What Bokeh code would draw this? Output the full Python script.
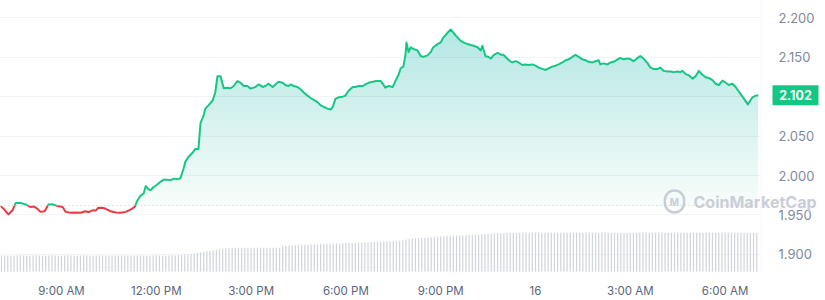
import numpy as np
from bokeh.plotting import figure
from bokeh.layouts import row
from bokeh.models import Range1d, FixedTicker, Span, Label, Grid
from bokeh.core.properties import value
from bokeh.embed import file_html
from bokeh.resources import INLINE

# ---- data (minutes since 00:00 on the 15th) ----
minutes = [424, 430, 439, 447, 453, 462, 472, 481, 487, 494, 500, 508, 515, 523, 532, 542,
           548, 557, 567, 576, 586, 591, 599, 605, 610, 620, 627, 633, 643, 652, 662, 671,
           679, 684, 690, 696, 700, 705, 709, 715, 722, 728, 734, 741, 747, 753, 760, 766,
           772, 775, 781, 789, 794, 800, 804, 810, 813, 819, 827, 832, 836, 842, 848, 855,
           861, 867, 874, 880, 886, 893, 899,
           908, 914, 922, 927, 933, 941, 946, 952, 960, 965, 971, 975, 981, 988, 994, 1000,
           1007, 1013, 1019, 1026, 1032, 1038, 1045, 1051, 1055, 1060, 1066, 1074, 1079, 1085,
           1093, 1098, 1104, 1112, 1117, 1123, 1131, 1136,
           1146, 1151, 1155, 1161, 1169, 1174, 1180, 1184, 1189, 1193, 1195, 1199, 1203, 1208,
           1216, 1222, 1227, 1235, 1241, 1246, 1254, 1260, 1265, 1273, 1279, 1284, 1292, 1298,
           1303, 1311, 1317, 1322, 1330, 1336, 1339, 1345, 1351, 1355, 1360, 1368, 1374, 1379,
           1387, 1393, 1396, 1402, 1408, 1415, 1421, 1427, 1434, 1440, 1446, 1453, 1459, 1465,
           1472, 1478, 1484, 1491, 1497, 1503, 1510, 1516, 1522, 1529, 1535, 1541, 1548, 1554,
           1560, 1563, 1569, 1577, 1582, 1588, 1596, 1601, 1607, 1615, 1620,
           1626, 1634, 1639, 1645, 1653, 1658, 1664, 1672, 1677, 1683, 1691, 1696, 1702, 1710,
           1715, 1719, 1725, 1731, 1738, 1744, 1750, 1757, 1763, 1769, 1776, 1782, 1788, 1795,
           1801, 1807, 1814, 1820, 1826, 1833, 1839, 1843, 1848, 1852, 1858, 1863]

prices = [1.9615, 1.9580, 1.9506, 1.9559, 1.9650, 1.9653, 1.9633, 1.9601, 1.9608, 1.9580,
          1.9539, 1.9547, 1.9631, 1.9635, 1.9613, 1.9601, 1.9539, 1.9527, 1.9531, 1.9527,
          1.9547, 1.9534, 1.9559, 1.9555, 1.9592, 1.9588, 1.9568, 1.9547, 1.9531, 1.9527,
          1.9539, 1.9568,
          1.9601, 1.9682, 1.9743, 1.9773, 1.9866, 1.9826, 1.9813, 1.9854, 1.9887, 1.9920,
          1.9948, 1.9948, 1.9940, 1.9961, 1.9952, 1.9969, 2.0092, 2.0173, 2.0235, 2.0289,
          2.0338, 2.0338, 2.0665, 2.0768, 2.0849, 2.0891, 2.0952, 2.1054, 2.1259, 2.1259,
          2.1107, 2.1115, 2.1107, 2.1136, 2.1198, 2.1177, 2.1136, 2.1136, 2.1103,
          2.1124, 2.1156, 2.1124, 2.1136, 2.1165, 2.1124, 2.1156, 2.1189, 2.1177, 2.1149,
          2.1136, 2.1156, 2.1136, 2.1124, 2.1095, 2.1054, 2.1014, 2.0984, 2.0959, 2.0931,
          2.0891, 2.0870, 2.0849, 2.0837, 2.0870, 2.0972, 2.0993, 2.1001, 2.1014, 2.1075,
          2.1124, 2.1124, 2.1136, 2.1136, 2.1156, 2.1177, 2.1189, 2.1198,
          2.1198, 2.1156, 2.1115, 2.1136, 2.1124, 2.1198, 2.1279, 2.1361, 2.1382, 2.1525,
          2.1689, 2.1566, 2.1628, 2.1607, 2.1586, 2.1517, 2.1505, 2.1525, 2.1566, 2.1628,
          2.1668, 2.1689, 2.1751, 2.1812, 2.1853, 2.1812, 2.1751, 2.1709, 2.1689, 2.1668,
          2.1656, 2.1647, 2.1628, 2.1586, 2.1647, 2.1517, 2.1505, 2.1484, 2.1525, 2.1558,
          2.1533, 2.1533,
          2.1478, 2.1447, 2.1435, 2.1451, 2.1435, 2.1402, 2.1410, 2.1402, 2.1410, 2.1394,
          2.1370, 2.1353, 2.1340, 2.1361, 2.1382, 2.1394, 2.1410, 2.1435, 2.1463, 2.1475,
          2.1505, 2.1533, 2.1505, 2.1475, 2.1463, 2.1443, 2.1435, 2.1451, 2.1463, 2.1410,
          2.1423, 2.1410, 2.1435, 2.1443, 2.1475, 2.1493, 2.1475, 2.1484, 2.1478,
          2.1451, 2.1493, 2.1517, 2.1484, 2.1423, 2.1370, 2.1353, 2.1353, 2.1370, 2.1328,
          2.1321, 2.1321, 2.1312, 2.1321, 2.1312, 2.1328, 2.1287, 2.1272, 2.1230, 2.1259,
          2.1328, 2.1279, 2.1247, 2.1238, 2.1210, 2.1165, 2.1149, 2.1205, 2.1177, 2.1149,
          2.1165, 2.1124, 2.1066, 2.1001, 2.0944, 2.0903, 2.0952, 2.0993, 2.1014, 2.1020]

# volume buckets every 6 minutes (relative units)
vol_minutes = list(range(426, 1866, 6))
volume = [16.5, 16.5, 16.5, 16.5, 16.5, 16.5, 16.5, 16.5, 16.5, 16.5, 16.5, 16.5, 16.5, 16.5,
          16.5, 16.5, 16.5, 16.5, 16.5, 16.5, 16.5, 16.5, 16.5, 16.5, 16.5, 16.5, 16.5, 16.5,
          16.5, 16.5, 16.5, 16.5, 16.5, 16.5, 16.5, 16.5, 16.5, 16.5, 16.5, 16.5, 16.5, 16.5,
          16.5, 16.5, 16.5, 16.5, 16.5, 16.5, 16.5, 16.5, 16.5, 16.5, 16.5, 16.5, 16.5, 16.5,
          17, 17, 17.5, 18, 18.5, 19, 19.5, 20, 20.5, 21, 21.5, 22, 22.5, 23, 23.5, 24, 24,
          24.5, 24.5, 24.5, 24.5, 24.5, 24.5, 24.5, 24.5, 24.5, 24.5, 24.5, 24.5, 24.5, 24.5,
          24.5, 24.5,
          26.5, 27, 27, 27, 27.2, 27.4, 27.5, 27.6, 27.8, 27.9, 28,
          28, 28.2, 28.4, 28.5, 28.6, 28.8, 29, 29.1, 29.2, 29.4, 29.5,
          29.6, 29.8, 30, 30.1, 30.2, 30.4, 30.5, 30.6, 30.8, 30.9, 31,
          31.2, 31.4, 31.5, 31.6, 31.8, 32, 33, 34,
          34.2, 34.4, 34.6, 34.8, 35, 35.2, 35.5, 35.8, 36, 36.2, 36.5, 36.8, 37,
          37.2, 37.3, 37.5, 37.6, 37.8, 37.9, 38, 38.2, 38.3, 38.5,
          38.7, 38.9, 39.1, 39.3, 39.5, 39.6, 39.8, 40,
          40, 40, 40, 40, 40, 40, 40, 40, 40, 40, 40, 40, 40, 40, 40, 40, 40, 40, 40, 40,
          40, 40, 40, 40, 40, 40, 40, 40, 40, 40, 40, 40, 40, 40, 40, 40, 40, 40, 40, 40,
          40, 40, 40, 40, 40, 40, 40, 40, 40, 40, 40, 40, 40, 40, 40, 40, 40, 40, 40, 40,
          40, 40, 40, 40, 40, 40, 40, 40, 40, 40, 40, 40, 40, 40, 40, 40, 40, 40, 40]

x_ticks = [540, 720, 900, 1080, 1260, 1440, 1620, 1800]
x_tick_labels = ["9:00 AM", "12:00 PM", "3:00 PM", "6:00 PM", "9:00 PM", "16", "3:00 AM", "6:00 AM"]
y_ticks = [1.900, 1.950, 2.000, 2.050, 2.150, 2.200]
y_tick_labels = ["1.900", "1.950", "2.000", "2.050", "2.150", "2.200"]
grid_ticks = [1.900, 1.950, 2.000, 2.050, 2.100, 2.150, 2.200]
open_price = 1.9618
last_price = 2.102

GREEN = "#16c784"
RED = "#ea3943"
WM = "#c9ced6"

y_range = Range1d(1.8757, 2.2221)

# ---------------- main chart ----------------
p = figure(width=760, height=300, output_backend="svg", toolbar_location=None,
           x_range=Range1d(424.2, 1867.2), y_range=y_range,
           y_axis_location=None, min_border_left=0, min_border_top=0,
           min_border_right=0, min_border_bottom=18)
p.outline_line_color = None
p.background_fill_color = "white"
p.border_fill_color = "white"
p.xgrid.visible = False
p.add_layout(Grid(dimension=1, ticker=FixedTicker(ticks=grid_ticks),
                  grid_line_color="#f1f3f6"))

# volume bars
p.extra_y_ranges = {"vol": Range1d(-2, 280)}
p.vbar(x=vol_minutes, top=volume, bottom=0, width=2.3, y_range_name="vol",
       fill_color="#d0d4db", line_color=None)

# gradient-like fill above the open price
mt = np.array(minutes, dtype=float)
pr = np.array(prices)
p.varea(x=mt, y1=np.full_like(pr, open_price), y2=np.maximum(pr, open_price),
        fill_color=GREEN, fill_alpha=0.04)
for lvl in np.arange(1.97, 2.19, 0.01):
    p.varea(x=mt, y1=np.full_like(pr, lvl), y2=np.maximum(pr, lvl),
            fill_color=GREEN, fill_alpha=0.013)

# baseline (open price)
p.add_layout(Span(location=open_price, dimension="width", line_color="#c3c8d0",
                  line_dash="1 3", line_width=1))

def split_runs(xs, ys, base):
    up_x, up_y, dn_x, dn_y = [], [], [], []
    cx, cy = [xs[0]], [ys[0]]
    cur_up = ys[0] >= base
    for i in range(1, len(xs)):
        x0, y0, x1, y1 = xs[i - 1], ys[i - 1], xs[i], ys[i]
        up = y1 >= base
        if up != cur_up:
            xc = x0 + (base - y0) * (x1 - x0) / (y1 - y0)
            cx.append(xc); cy.append(base)
            if cur_up:
                up_x.append(cx); up_y.append(cy)
            else:
                dn_x.append(cx); dn_y.append(cy)
            cx, cy = [xc], [base]
            cur_up = up
        cx.append(x1); cy.append(y1)
    if cur_up:
        up_x.append(cx); up_y.append(cy)
    else:
        dn_x.append(cx); dn_y.append(cy)
    return up_x, up_y, dn_x, dn_y

ux, uy, dx, dy = split_runs(list(mt), list(pr), open_price)
p.multi_line(xs=ux, ys=uy, line_color=GREEN, line_width=2, line_join="round")
p.multi_line(xs=dx, ys=dy, line_color=RED, line_width=2, line_join="round")

xa = p.xaxis[0]
xa.ticker = FixedTicker(ticks=x_ticks)
xa.major_label_overrides = {float(t): s for t, s in zip(x_ticks, x_tick_labels)}
xa.axis_line_color = None
xa.major_tick_line_color = None
xa.minor_tick_line_color = None
xa.major_label_standoff = 4
xa.major_label_text_font = "Inter"
xa.major_label_text_font_size = "11.5px"
xa.major_label_text_color = "#58667e"

# watermark: logo + first part of the word (kept fully inside this panel)
p.add_layout(Label(x=674, y=201, x_units="canvas", y_units="canvas", text="M",
                   text_align="center", text_baseline="middle",
                   text_color=WM, text_font="Inter", text_font_size="10px",
                   text_font_style="bold", border_line_color=WM, border_line_width=2.5,
                   border_radius=11, padding=5))
p.add_layout(Label(x=693, y=201, x_units="canvas", y_units="canvas", text="CoinMar",
                   text_align="left", text_baseline="middle", text_color=WM,
                   text_font="Inter", text_font_size="16px", text_font_style="bold"))

# ---------------- price scale panel ----------------
s = figure(width=65, height=300, output_backend="svg", toolbar_location=None,
           x_range=Range1d(0, 65), y_range=y_range,
           x_axis_location=None, y_axis_location=None,
           min_border_left=0, min_border_top=0, min_border_right=0, min_border_bottom=18)
s.outline_line_color = None
s.background_fill_color = "white"
s.border_fill_color = "white"
s.xgrid.visible = False
s.ygrid.visible = False
s.add_layout(Span(location=0.5, dimension="height", line_color="#f1f3f6", line_width=1))

s.text(x=[18] * len(y_ticks), y=y_ticks, text=y_tick_labels,
       text_align="left", text_baseline="middle", text_color="#808a9d",
       text_font=value("Inter"), text_font_size="13px")

# watermark: rest of the word
s.add_layout(Label(x=0.5, y=201, x_units="canvas", y_units="canvas",
                   text="ketCap", text_align="left", text_baseline="middle",
                   text_color=WM, text_font="Inter", text_font_size="16px",
                   text_font_style="bold"))

# last price tag
s.rect(x=[35], y=[last_price], width=46, height=20, height_units="screen",
       fill_color=GREEN, line_color=None)
s.text(x=[35], y=[last_price], text=[f"{last_price:.3f}"],
       text_align="center", text_baseline="middle", text_color="white",
       text_font=value("Inter"), text_font_size="12.5px", text_font_style="bold")

layout = row(p, s, spacing=0)
open("out.html", "w").write(file_html(layout, INLINE))
